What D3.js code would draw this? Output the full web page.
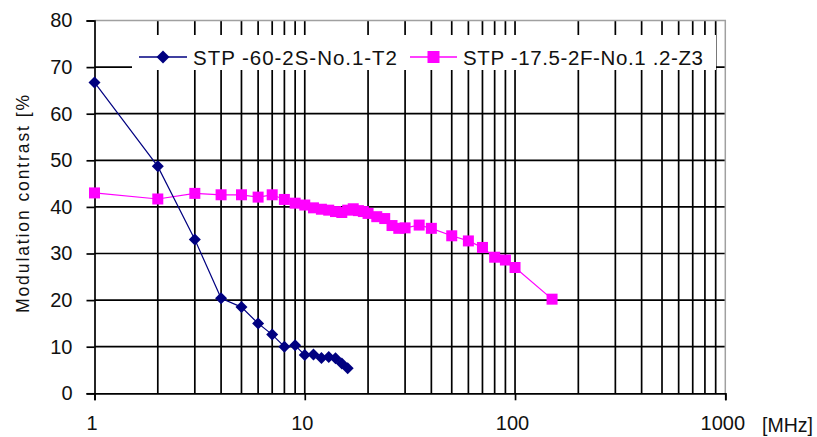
<!DOCTYPE html>
<html>
<head>
<meta charset="utf-8">
<script src="https://cdn.jsdelivr.net/npm/d3@7"></script>
<style>
  html, body { margin: 0; padding: 0; background: #fff; }
  svg { display: block; font-family: "Liberation Sans", Arial, sans-serif; }
</style>
</head>
<body>
<svg id="chart" width="817" height="437"></svg>
<script>
// Modulation contrast versus frequency for two cable samples
const seriesNames = ["STP -60-2S-No.1-T2", "STP -17.5-2F-No.1 .2-Z3"];

const freqA = [1, 2, 3, 4, 5, 6, 7, 8, 9, 10, 11, 12, 13, 14, 15, 16];
const contrastA = [66.7, 48.7, 33.0, 20.4, 18.5, 15.0, 12.6, 10.0, 10.3, 8.2, 8.3, 7.6, 7.8, 7.5, 6.4, 5.4];

const freqB = [1, 2, 3, 4, 5, 6, 7, 8, 9, 10, 11, 12, 13, 14, 15, 16, 17, 18, 19, 20,
               22, 24, 26, 28, 30, 35, 40, 50, 60, 70, 80, 90, 100, 150];
const contrastB = [43.0, 41.7, 42.9, 42.6, 42.6, 42.1, 42.6, 41.6, 40.8, 40.4, 39.8, 39.5, 39.3, 39.0, 38.8, 39.3, 39.6, 39.2, 39.0, 38.6,
                   37.9, 37.5, 36.0, 35.4, 35.5, 36.1, 35.4, 33.8, 32.7, 31.3, 29.2, 28.6, 27.0, 20.2];

const xTickLabels = [1, 10, 100, 1000];
const yTickValues = [0, 10, 20, 30, 40, 50, 60, 70, 80];
const xUnit = "[MHz]";
const yTitle = "Modulation contrast [%";

const colors = ["#000080", "#ff00ff"];

const svg = d3.select("#chart");
const plotL = 94.5, plotR = 725.3, plotT = 20.5, plotB = 393.3;

const x = d3.scaleLog().domain([1, 1000]).range([plotL, plotR]);
const y = d3.scaleLinear().domain([0, 80]).range([plotB, plotT]);

// grid: every minor decade step vertically, every 10 % horizontally
const minor = x.ticks().filter(v => v > 1 && v < 1000);
svg.append("g").selectAll("line").data(minor).join("line")
  .attr("x1", d => x(d)).attr("x2", d => x(d))
  .attr("y1", plotT).attr("y2", plotB)
  .attr("stroke", "#000").attr("stroke-width", 1.7);

svg.append("g").selectAll("line").data(yTickValues.filter(v => v > 0 && v < 80)).join("line")
  .attr("x1", plotL).attr("x2", plotR)
  .attr("y1", d => y(d)).attr("y2", d => y(d))
  .attr("stroke", "#000").attr("stroke-width", 1.7);

// frame: grey top and right, black axes
svg.append("path")
  .attr("d", `M${plotL},${plotT}H${plotR}V${plotB}`)
  .attr("fill", "none").attr("stroke", "#a0a0a0").attr("stroke-width", 1.5);

const yAxis = d3.axisLeft(y).tickValues(yTickValues).tickSize(8).tickPadding(14)
  .tickFormat(d3.format("d"));
const gy = svg.append("g").attr("transform", `translate(${plotL},0)`).call(yAxis);
gy.select(".domain").attr("stroke", "#000").attr("stroke-width", 1.7);
gy.selectAll(".tick line").attr("stroke", "#000").attr("stroke-width", 1.7);
gy.selectAll(".tick text").attr("font-size", 20).attr("fill", "#111")
  .attr("font-family", "'Liberation Sans', Arial, sans-serif");

const xAxis = d3.axisBottom(x).tickValues(xTickLabels).tickSize(7).tickPadding(16)
  .tickFormat(d3.format("d"));
const gx = svg.append("g").attr("transform", `translate(0,${plotB})`).call(xAxis);
gx.select(".domain").attr("stroke", "#000").attr("stroke-width", 1.7);
gx.selectAll(".tick line").attr("stroke", "#000").attr("stroke-width", 1.7);
gx.selectAll(".tick text").attr("font-size", 20).attr("fill", "#111").attr("dx", -3)
  .attr("font-family", "'Liberation Sans', Arial, sans-serif");

svg.append("text")
  .attr("x", 762).attr("y", 432)
  .attr("font-size", 19.5).attr("fill", "#111")
  .text(xUnit);

svg.append("text")
  .attr("transform", "translate(29,204) rotate(-90)")
  .attr("text-anchor", "middle")
  .attr("font-size", 17.5).attr("fill", "#111")
  .attr("textLength", 218).attr("lengthAdjust", "spacing")
  .text(yTitle);

// marker shapes
const diamond = (cx, cy, r) => `M${cx},${cy - r}L${cx + r},${cy}L${cx},${cy + r}L${cx - r},${cy}Z`;
const square = (cx, cy, r) => `M${cx - r},${cy - r}h${2 * r}v${2 * r}h${-2 * r}Z`;

function drawSeries(fs, vs, color, marker, r) {
  const pts = fs.map((f, i) => [f, vs[i]]);
  const g = svg.append("g");
  g.append("path")
    .attr("d", d3.line().x(d => x(d[0])).y(d => y(d[1]))(pts))
    .attr("fill", "none").attr("stroke", color).attr("stroke-width", 1.2);
  g.selectAll("path.m").data(pts).join("path").attr("class", "m")
    .attr("d", d => marker(x(d[0]), y(d[1]), r))
    .attr("fill", color);
}

drawSeries(freqB, contrastB, colors[1], square, 5.5);
drawSeries(freqA, contrastA, colors[0], diamond, 6);

// legend
const lg = svg.append("g");
lg.append("rect").attr("x", 132).attr("y", 35).attr("width", 584).attr("height", 35).attr("fill", "#fff");
const legendItems = [
  { name: seriesNames[0], color: colors[0], marker: diamond, r: 6.5, x0: 139, x1: 187, tx: 193, tw: 204 },
  { name: seriesNames[1], color: colors[1], marker: square, r: 6, x0: 410, x1: 457, tx: 463, tw: 240 }
];
const ly = 57;
legendItems.forEach(it => {
  lg.append("line").attr("x1", it.x0).attr("x2", it.x1).attr("y1", ly).attr("y2", ly)
    .attr("stroke", it.color).attr("stroke-width", 1.6);
  lg.append("path").attr("d", it.marker((it.x0 + it.x1) / 2, ly, it.r)).attr("fill", it.color);
  lg.append("text").attr("x", it.tx).attr("y", ly + 7.5)
    .attr("font-size", 20.5).attr("fill", "#111")
    .attr("textLength", it.tw).attr("lengthAdjust", "spacing")
    .text(it.name);
});
</script>
</body>
</html>
